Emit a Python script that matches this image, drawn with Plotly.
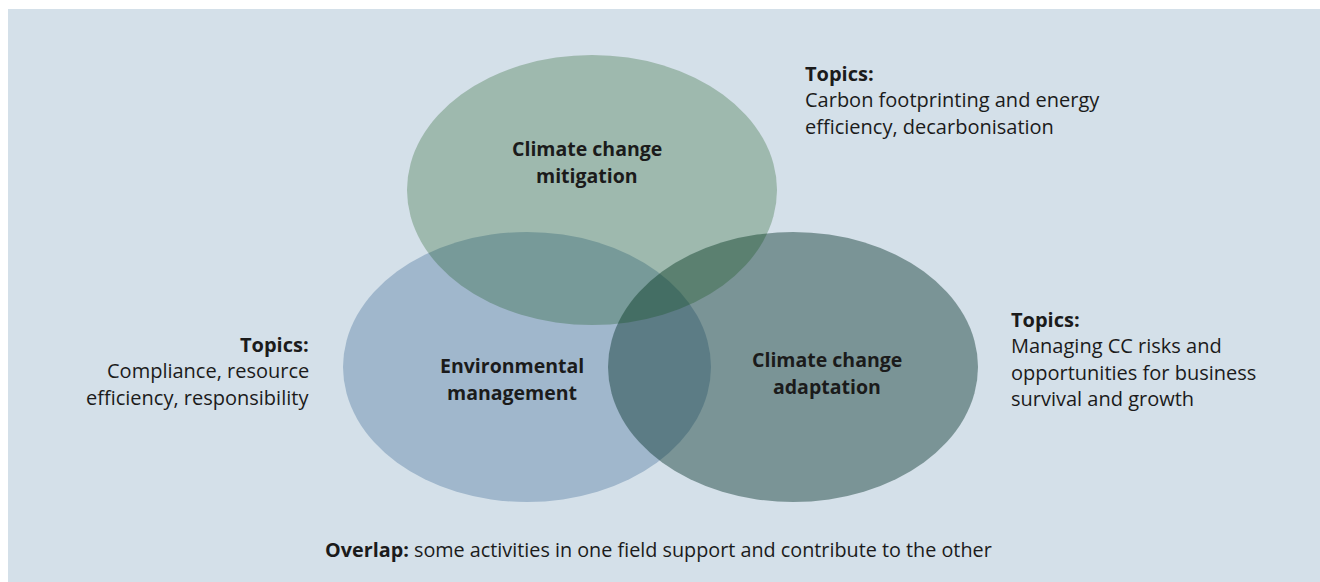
import plotly.graph_objects as go

# Venn circles (bottom to top in drawing order)
circle_labels = ["Environmental<br>management", "Climate change<br>adaptation", "Climate change<br>mitigation"]
circle_cx = [527, 793, 592]
circle_cy = [367, 367, 190]
circle_rx = [184, 185, 185]
circle_ry = [135, 135, 135]
circle_fill = ["#a0b7cc", "rgba(0,45,38,0.425)", "rgba(0,71,2,0.255)"]
label_pos = [(512, 379), (827, 373), (587, 162)]

# side notes
topic_lines = [
    ["Carbon footprinting and energy", "efficiency, decarbonisation"],
    ["Compliance, resource", "efficiency, responsibility"],
    ["Managing CC risks and", "opportunities for business", "survival and growth"],
]
topic_anchor = [(803, 73, "left"), (311, 344, "right"), (1009, 319, "left")]
overlap_note = "<b>Overlap:</b> some activities in one field support and contribute to the other"

W, H = 1320, 582
FONT = "Open Sans"
TXT = "#1b1b1b"
LINE = 26.5

fig = go.Figure()

# light panel behind the diagram
shapes = [dict(type="rect", x0=8, x1=W, y0=9, y1=H, fillcolor="#d4e0e9",
               line=dict(width=0), layer="below")]
for cx, cy, rx, ry, fc in zip(circle_cx, circle_cy, circle_rx, circle_ry, circle_fill):
    shapes.append(dict(type="circle", x0=cx - rx, x1=cx + rx, y0=cy - ry, y1=cy + ry,
                       fillcolor=fc, line=dict(width=0), layer="below"))

annotations = []
for lab, (x, y) in zip(circle_labels, label_pos):
    for i, part in enumerate(lab.split("<br>")):
        annotations.append(dict(x=x, y=y - LINE / 2 + i * LINE, text=f"<b>{part}</b>",
                                showarrow=False, xanchor="center", yanchor="middle",
                                font=dict(family=FONT, size=19.5, color=TXT)))

for lines, (x, y, side) in zip(topic_lines, topic_anchor):
    for i, part in enumerate(["<b>Topics:</b>"] + lines):
        annotations.append(dict(x=x, y=y + i * LINE, text=part, showarrow=False,
                                xanchor=side, yanchor="middle", align=side,
                                font=dict(family=FONT, size=20, color=TXT)))

annotations.append(dict(x=658, y=549, text=overlap_note, showarrow=False,
                        xanchor="center", yanchor="middle",
                        font=dict(family=FONT, size=19.8, color=TXT)))

fig.update_layout(
    width=W, height=H,
    margin=dict(l=0, r=0, t=0, b=0),
    paper_bgcolor="white", plot_bgcolor="white",
    xaxis=dict(range=[0, W], visible=False, fixedrange=True),
    yaxis=dict(range=[H, 0], visible=False, fixedrange=True),
    shapes=shapes, annotations=annotations, showlegend=False,
)

# drop the default body margin so the figure sits flush with the window
fig.write_html("out.html", config={"displayModeBar": False},
               post_script="document.body.style.margin='0';")
